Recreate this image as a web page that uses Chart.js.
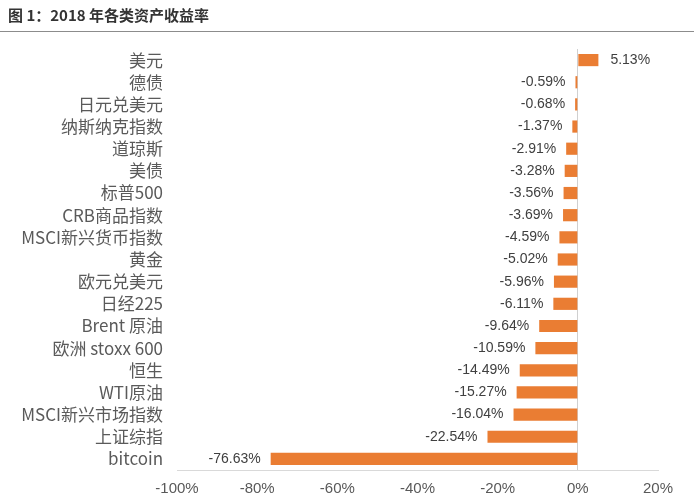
<!DOCTYPE html>
<html>
<head>
<meta charset="utf-8">
<script src="https://cdn.jsdelivr.net/npm/chart.js@4"></script>
<style>
  body { margin: 0; width: 694px; height: 501px; background: #fff; overflow: hidden; position: relative; }
  .title { position: absolute; left: 0; top: 0; width: 694px; height: 32px; border-bottom: 1px solid #8c8c8c;
           box-sizing: border-box; font: bold 15px "Noto Sans CJK SC", sans-serif; color: #333; padding: 4px 0 0 8px; }
  .wrap { position: absolute; left: 0; top: 0; width: 694px; height: 501px; }
</style>
</head>
<body>
<div class="wrap"><canvas id="returnsChart"></canvas></div>
<div class="title">图 1：2018 年各类资产收益率</div>
<script>
const assets = ['美元', '德债', '日元兑美元', '纳斯纳克指数', '道琼斯', '美债', '标普500', 'CRB商品指数',
    'MSCI新兴货币指数', '黄金', '欧元兑美元', '日经225', 'Brent 原油', '欧洲 stoxx 600', '恒生',
    'WTI原油', 'MSCI新兴市场指数', '上证综指', 'bitcoin'];
const returns2018 = [5.13, -0.59, -0.68, -1.37, -2.91, -3.28, -3.56, -3.69, -4.59, -5.02, -5.96,
    -6.11, -9.64, -10.59, -14.49, -15.27, -16.04, -22.54, -76.63];
const xTicks = [-100, -80, -60, -40, -20, 0, 20];

// draw the value next to each bar end
const valueLabels = {
    id: 'valueLabels',
    afterDatasetsDraw(chart) {
        const ctx = chart.ctx;
        const meta = chart.getDatasetMeta(0);
        ctx.save();
        ctx.font = '14px "Liberation Sans", Arial, sans-serif';
        ctx.fillStyle = '#404040';
        ctx.textBaseline = 'middle';
        meta.data.forEach((bar, i) => {
            const v = returns2018[i];
            const txt = v.toFixed(2) + '%';
            if (v >= 0) {
                ctx.textAlign = 'left';
                ctx.fillText(txt, bar.x + 12, bar.y);
            } else {
                ctx.textAlign = 'right';
                ctx.fillText(txt, bar.x - 10, bar.y);
            }
        });
        ctx.restore();
    }
};

const ctx = document.getElementById('returnsChart').getContext('2d');
new Chart(ctx, {
    type: 'bar',
    data: {
        labels: assets,
        datasets: [{
            data: returns2018,
            backgroundColor: '#ea7d33',
            barPercentage: 0.55,
            categoryPercentage: 1
        }]
    },
    options: {
        indexAxis: 'y',
        responsive: true,
        maintainAspectRatio: false,
        animation: false,
        layout: { padding: { top: 49, right: 36, left: 0, bottom: 0 } },
        plugins: { legend: { display: false }, tooltip: { enabled: false } },
        scales: {
            x: {
                min: -100, max: 20,
                afterBuildTicks: (scale) => { scale.ticks = xTicks.map(v => ({ value: v })); },
                afterFit: (scale) => { scale.height = 31; },
                border: { display: true, color: '#d9d9d9' },
                grid: {
                    drawTicks: false,
                    color: (c) => c.tick && c.tick.value === 0 ? '#d0d0d0' : 'rgba(0,0,0,0)'
                },
                ticks: {
                    padding: 10,
                    color: '#595959',
                    font: { size: 15, family: '"Liberation Sans", Arial, sans-serif' },
                    callback: (v) => v + '%'
                }
            },
            y: {
                afterFit: (scale) => { scale.width = 177; },
                border: { display: false },
                grid: { display: false, drawTicks: false },
                ticks: {
                    autoSkip: false,
                    padding: 14,
                    color: '#5a5a5a',
                    font: { size: 17, family: '"Noto Sans CJK SC", sans-serif' }
                }
            }
        }
    },
    plugins: [valueLabels]
});
</script>
</body>
</html>
